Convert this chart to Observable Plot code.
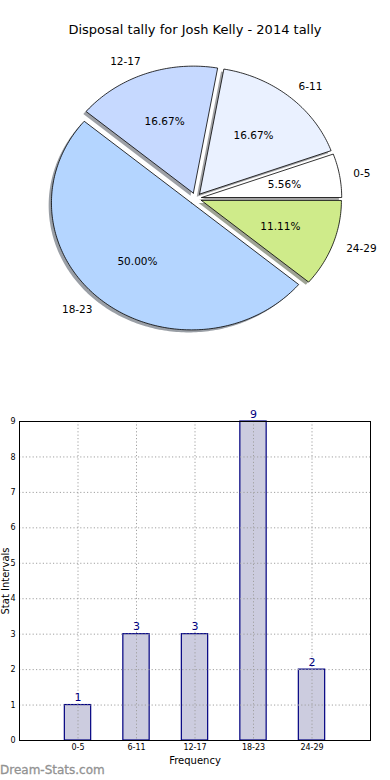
<!DOCTYPE html>
<html>
<head>
<meta charset="utf-8">
<script src="https://cdn.jsdelivr.net/npm/d3@7"></script>
<script src="https://cdn.jsdelivr.net/npm/@observablehq/plot@0.6"></script>
<style>
  body { margin: 0; background: #fff; font-family: "DejaVu Sans", sans-serif; }
  #wrap { position: relative; width: 390px; height: 780px; overflow: hidden; }
  #wrap > * { position: absolute; }
  #title { top: 22px; left: 0; width: 390px; text-align: center; font-size: 13px; color: #000; }
  #wm { left: 0; top: 763px; font-size: 12px; color: #929292; font-weight: normal; -webkit-text-stroke: 0.3px #929292; }
</style>
</head>
<body>
<div id="wrap">
  <div id="pie" style="top:0;left:0"></div>
  <div id="bar" style="top:400px;left:0"></div>
  <div id="title">Disposal tally for Josh Kelly - 2014 tally</div>
  <div id="wm">Dream-Stats.com</div>
</div>
<script>
// ---- data ----
const categories = ["0-5", "6-11", "12-17", "18-23", "24-29"];
const counts = [1, 3, 3, 9, 2];
const pieColors = ["#ffffff", "#eaf1ff", "#c6d9ff", "#b4d5ff", "#cfeb8a"];
const yTicks = [0, 1, 2, 3, 4, 5, 6, 7, 8, 9];

// ---- pie geometry (unit circle, counter-clockwise from 0°) ----
const explode = 0.045;
const total = d3.sum(counts);
const slices = [];
let cum = 0;
counts.forEach((v, i) => {
  const a0 = cum / total * 2 * Math.PI;
  cum += v;
  const a1 = cum / total * 2 * Math.PI;
  const mid = (a0 + a1) / 2;
  slices.push({i, cat: categories[i], v, a0, a1, mid,
    ox: explode * Math.cos(mid), oy: explode * Math.sin(mid)});
});
function slicePoints(s, dx, dy) {
  const pts = [];
  const n = Math.max(4, Math.ceil((s.a1 - s.a0) / (Math.PI / 180)));
  pts.push({k: s.i, x: s.ox + dx, y: s.oy + dy});
  for (let j = 0; j <= n; j++) {
    const a = s.a0 + (s.a1 - s.a0) * j / n;
    pts.push({k: s.i, x: s.ox + dx + Math.cos(a), y: s.oy + dy + Math.sin(a)});
  }
  pts.push({k: s.i, x: s.ox + dx, y: s.oy + dy});
  return pts;
}
const wedgePts = slices.flatMap(s => slicePoints(s, 0, 0).map(p => ({...p, color: pieColors[s.i]})));
const shadowPts = slices.flatMap(s => slicePoints(s, -0.02, -0.02).map(p => {
  const c = d3.rgb(pieColors[s.i]);
  return {...p, color: d3.rgb(c.r * 0.3, c.g * 0.3, c.b * 0.3).formatHex()};
}));
const labels = slices.map(s => ({
  cat: s.cat,
  x: (explode + 1.1) * Math.cos(s.mid),
  y: (explode + 1.1) * Math.sin(s.mid),
  px: (explode + 0.6) * Math.cos(s.mid),
  py: (explode + 0.6) * Math.sin(s.mid),
  pct: (s.v / total * 100).toFixed(2) + "%"
}));

const font = "DejaVu Sans";
const pie = Plot.plot({
  width: 390, height: 380, margin: 0,
  x: {domain: [-195 / 140, 195 / 140], axis: null},
  y: {domain: [-182 / 127, 198 / 127], axis: null},
  color: {type: "identity"},
  style: {fontFamily: font, background: "transparent", overflow: "visible"},
  marks: [
    Plot.line(shadowPts, {x: "x", y: "y", z: "k", fill: "color", fillOpacity: 0.5, stroke: null}),
    Plot.line(wedgePts, {x: "x", y: "y", z: "k", fill: "color", stroke: "#000", strokeWidth: 0.8, strokeLinejoin: "miter"}),
    Plot.text(labels.filter(d => d.x > 0), {x: "x", y: "y", text: "cat", fontSize: 10.5, fill: "#000", textAnchor: "start"}),
    Plot.text(labels.filter(d => d.x <= 0), {x: "x", y: "y", text: "cat", fontSize: 10.5, fill: "#000", textAnchor: "end"}),
    Plot.text(labels, {x: "px", y: "py", text: "pct", fontSize: 10.5, fill: "#000", textAnchor: "middle"})
  ]
});
document.getElementById("pie").append(pie);

// ---- bar chart ----
const barData = categories.map((c, i) => ({cat: c, i, v: counts[i]}));
const barW = 0.45;
const bar = Plot.plot({
  width: 390, height: 380,
  marginLeft: 19, marginRight: 20, marginTop: 21, marginBottom: 40,
  x: {domain: [-1, 5]},
  y: {domain: [0, 9]},
  style: {fontFamily: font, background: "transparent", overflow: "visible"},
  marks: [
    Plot.rectY(barData, {x1: d => d.i - barW / 2, x2: d => d.i + barW / 2, y1: 0, y2: "v",
      fill: "#ccccdf", stroke: "#000080", strokeWidth: 1.2}),
    Plot.gridX({ticks: barData.map(d => d.i), stroke: "#a0a0a0", strokeOpacity: 1, strokeDasharray: "1.2,2.2"}),
    Plot.gridY({ticks: yTicks.slice(1, -1), stroke: "#a0a0a0", strokeOpacity: 1, strokeDasharray: "1.2,2.2"}),
    Plot.frame({stroke: "#000", strokeWidth: 1}),
    Plot.axisX({ticks: barData.map(d => d.i), tickFormat: i => categories[i], tickSize: 0, tickPadding: 4, fontSize: 8, label: null}),
    Plot.axisY({ticks: yTicks, tickFormat: d => d, tickSize: 0, tickPadding: 4, fontSize: 8, label: null}),
    Plot.text(barData, {x: "i", y: "v", text: d => String(d.v), dy: -4, lineAnchor: "bottom", fill: "#000080", fontSize: 11}),
    Plot.text(["Frequency"], {frameAnchor: "bottom", dy: 20, lineAnchor: "middle", textAnchor: "middle", text: d => d, fontSize: 10, fill: "#000"}),
    Plot.text(["Stat Intervals"], {frameAnchor: "left", dx: -11, rotate: -90, lineAnchor: "bottom", textAnchor: "middle", text: d => d, fontSize: 10, fill: "#000"})
  ]
});
document.getElementById("bar").append(bar);
</script>
</body>
</html>
